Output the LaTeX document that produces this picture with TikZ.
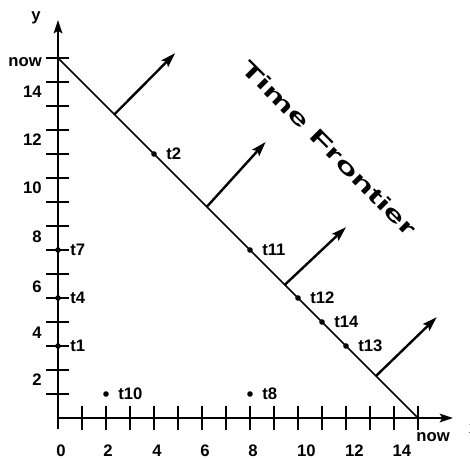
\documentclass[tikz,border=0pt]{standalone}
\usepackage{fontspec}
\setmainfont{Liberation Sans}
\usetikzlibrary{arrows.meta}
\begin{document}
\begin{tikzpicture}[x=18pt,y=18pt,
  every node/.style={font=\fontsize{12.5}{14}\selectfont\bfseries, inner sep=0pt},
  axisline/.style={line width=1.5pt, -{Stealth[length=10pt,width=6.5pt,inset=2pt]}},
  tickmark/.style={line width=1.1pt},
  frontline/.style={line width=1.1pt},
  movearrow/.style={line width=1.8pt, -{Stealth[length=11pt,width=7pt,inset=2pt]}},
  evdot/.style={circle, fill=black, minimum size=4.2pt},
  evlabel/.style={anchor=west},
  ynum/.style={anchor=east},
  xnum/.style={anchor=center}
]
\useasboundingbox (-2.4167,-1.6667) rectangle (17.1667,17.4167);
% axes
\coordinate (ybot) at (0,-0.45);
\coordinate (ytop) at (0,16.58);
\coordinate (xl) at (0,0);
\coordinate (xr) at (16.46,0);
\draw[axisline] (ybot) -- (ytop);
\draw[axisline] (xl) -- (xr);
% ticks
\foreach \i in {1,...,15} {
  \coordinate (xt\i a) at (\i,-0.5);
  \coordinate (xt\i b) at (\i,0.5);
  \draw[tickmark] (xt\i a) -- (xt\i b);
  \coordinate (yt\i a) at (-0.5,\i);
  \coordinate (yt\i b) at (0.45,\i);
  \draw[tickmark] (yt\i a) -- (yt\i b);
}
% axis labels
\node (ylab) at (-0.917,16.67) {y};
\node[anchor=west] (xlab) at (17.12,-0.46) {x};
\node[ynum] (y2) at (-0.667,1.58) {2};
\node[ynum] (y4) at (-0.667,3.54) {4};
\node[ynum] (y6) at (-0.667,5.46) {6};
\node[ynum] (y8) at (-0.667,7.54) {8};
\node[ynum] (y10) at (-0.667,9.58) {10};
\node[ynum] (y12) at (-0.667,11.58) {12};
\node[ynum] (y14) at (-0.667,13.58) {14};
\node[ynum] (ynow) at (-0.667,14.83) {now};
\node[xnum] (x0) at (0.125,-1.36) {0};
\node[xnum] (x2) at (2.08,-1.36) {2};
\node[xnum] (x4) at (4.125,-1.36) {4};
\node[xnum] (x6) at (6.125,-1.36) {6};
\node[xnum] (x8) at (8.125,-1.36) {8};
\node[xnum] (x10) at (10.35,-1.36) {10};
\node[xnum] (x12) at (12.35,-1.36) {12};
\node[xnum] (x14) at (14.33,-1.36) {14};
\node[xnum] (xnow) at (15.63,-0.8) {now};
% time frontier
\coordinate (fy) at (0,15);
\coordinate (fx) at (15,0);
\draw[frontline] (fy) -- (fx);
\node[rotate=-45, font=\fontsize{16}{18}\bfseries] (tf) at (11.3,11.25) {\scalebox{1.75}[1]{Time Frontier}};
% movement arrows
\coordinate (a1s) at (2.35,12.65); \coordinate (a1e) at (4.88,15.2);
\coordinate (a2s) at (6.2,8.8);    \coordinate (a2e) at (8.65,11.5);
\coordinate (a3s) at (9.45,5.55);  \coordinate (a3e) at (12,7.95);
\coordinate (a4s) at (13.25,1.75); \coordinate (a4e) at (15.78,4.2);
\draw[movearrow] (a1s) -- (a1e);
\draw[movearrow] (a2s) -- (a2e);
\draw[movearrow] (a3s) -- (a3e);
\draw[movearrow] (a4s) -- (a4e);
% events
\node[evdot] (t1) at (0,3) {};   \node[evlabel] (t1l) at (0.5,3) {t1};
\node[evdot] (t4) at (0,5) {};   \node[evlabel] (t4l) at (0.5,5) {t4};
\node[evdot] (t7) at (0,7) {};   \node[evlabel] (t7l) at (0.5,7) {t7};
\node[evdot] (t10) at (2,1) {};  \node[evlabel] (t10l) at (2.5,1) {t10};
\node[evdot] (t8) at (8,1) {};   \node[evlabel] (t8l) at (8.5,1) {t8};
\node[evdot] (t2) at (4,11) {};  \node[evlabel] (t2l) at (4.5,11) {t2};
\node[evdot] (t11) at (8,7) {};  \node[evlabel] (t11l) at (8.5,7) {t11};
\node[evdot] (t12) at (10,5) {}; \node[evlabel] (t12l) at (10.5,5) {t12};
\node[evdot] (t14) at (11,4) {}; \node[evlabel] (t14l) at (11.5,4) {t14};
\node[evdot] (t13) at (12,3) {}; \node[evlabel] (t13l) at (12.5,3) {t13};
\end{tikzpicture}
\end{document}
